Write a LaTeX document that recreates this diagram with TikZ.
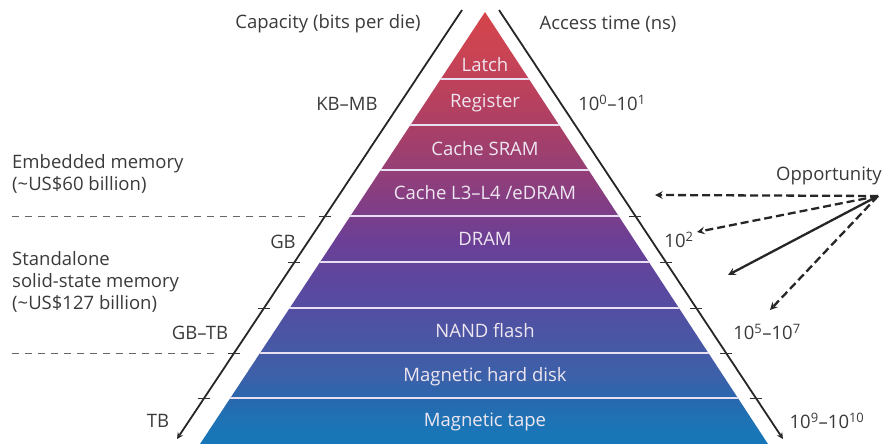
\documentclass[tikz,border=0pt]{standalone}
\usepackage{fontspec}
\setmainfont{Open Sans}
\usetikzlibrary{positioning}
\tikzset{>=stealth}
\definecolor{labelgray}{HTML}{3A3A3A}
\definecolor{bandtext}{HTML}{EEE6F0}
\definecolor{sepline}{HTML}{E8E0F2}
\pgfdeclareverticalshading{memshade}{100bp}{%
	color(0bp)=(rgb,255:red,22;green,119;blue,184);
	color(25bp)=(rgb,255:red,22;green,119;blue,184);
	color(27.7bp)=(rgb,255:red,30;green,115;blue,181);
	color(30.1bp)=(rgb,255:red,40;green,104;blue,174);
	color(33bp)=(rgb,255:red,61;green,96;blue,169);
	color(38.2bp)=(rgb,255:red,76;green,84;blue,163);
	color(43.4bp)=(rgb,255:red,91;green,71;blue,159);
	color(48.7bp)=(rgb,255:red,108;green,63;blue,149);
	color(54.1bp)=(rgb,255:red,136;green,62;blue,128);
	color(59.3bp)=(rgb,255:red,160;green,63;blue,109);
	color(64.8bp)=(rgb,255:red,183;green,64;blue,94);
	color(71.2bp)=(rgb,255:red,204;green,68;blue,82);
	color(75bp)=(rgb,255:red,212;green,68;blue,74);
	color(100bp)=(rgb,255:red,212;green,68;blue,74)}
\tikzset{
	% text styles
	outlabel/.style={text=labelgray,font=\fontsize{18.5}{22}\selectfont,inner sep=0pt},
	bandlabel/.style={text=bandtext,font=\fontsize{18.5}{22}\selectfont,inner sep=0pt},
	% line styles
	axisline/.style={line width=1.8pt,black!85},
	tickmark/.style={line width=1pt,black!80},
	divider/.style={dashed,dash pattern=on 7pt off 6pt,line width=1pt,black!60},
	opparrow/.style={->,line width=2.3pt,black!85},
	oppdash/.style={opparrow,dashed,dash pattern=on 8pt off 4pt},
}

\begin{document}
\begin{tikzpicture}[x=1pt,y=-1pt]
	\useasboundingbox (0,0) rectangle (883,444);
	
	% pyramid
	\shade[shading=memshade] (485,12) -- (768,444) -- (200,444) -- cycle;
	\begin{scope}
		\clip (485,12) -- (768,444) -- (200,444) -- cycle;
		\foreach \y in {79,125,170,216,262,308,353,398}
			\draw[sepline,line width=1.8pt] (150,\y) -- (820,\y);
	\end{scope}
	
	\node[bandlabel] (latch) at (485,65) {Latch};
	\node[bandlabel] (register) at (485,103) {Register};
	\node[bandlabel] (sram) at (485,149) {Cache SRAM};
	\node[bandlabel] (edram) at (485,193) {Cache L3–L4 /eDRAM};
	\node[bandlabel] (dram) at (485,239) {DRAM};
	\node[bandlabel] (nand) at (485,331) {NAND flash};
	\node[bandlabel] (hdd) at (485,377) {Magnetic hard disk};
	\node[bandlabel] (tape) at (485,422) {Magnetic tape};
	
	% axes
	\coordinate (captop) at (462,10);
	\coordinate (capbot) at (177,439);
	\coordinate (acctop) at (499,10);
	\coordinate (accbot) at (783,439);
	\draw[axisline,->] (captop) -- (capbot);
	\draw[axisline,->] (acctop) -- (accbot);
	\foreach \y in {216,262,308,353,398} {
		\draw[tickmark] ({462-(\y-10)*0.666-6},\y) -- ++(12,0);
		\draw[tickmark] ({499+(\y-10)*0.662-6},\y) -- ++(12,0);
	}
	
	\node[outlabel] (capacity) at (328,24) {Capacity (bits per die)};
	\node[outlabel] (access) at (608,24) {Access time (ns)};
	\node[outlabel] (kbmb) at (347,104) {KB–MB};
	\node[outlabel] (gb) at (283,242) {GB};
	\node[outlabel] (gbtb) at (200,333) {GB–TB};
	\node[outlabel] (tb) at (158,421) {TB};
	\node[outlabel] (t01) at (612,103) {10\textsuperscript{0}–10\textsuperscript{1}};
	\node[outlabel] (t2) at (679,240) {10\textsuperscript{2}};
	\node[outlabel] (t57) at (767,332) {10\textsuperscript{5}–10\textsuperscript{7}};
	\node[outlabel] (t910) at (827,421) {10\textsuperscript{9}–10\textsuperscript{10}};
	
	% market segments
	\node[outlabel,anchor=west,align=left] (embedded) at (12,174) {Embedded memory\\(\textasciitilde US\$60 billion)};
	\node[outlabel,anchor=west,align=left] (standalone) at (12,282) {Standalone\\solid-state memory\\(\textasciitilde US\$127 billion)};
	\coordinate (embl) at (12,216);
	\coordinate (embr) at (305,216);
	\coordinate (stal) at (12,353);
	\coordinate (star) at (214,353);
	\draw[divider] (embl) -- (embr);
	\draw[divider] (stal) -- (star);
	
	% opportunity
	\node[outlabel] (opp) at (829,176) {Opportunity};
	\coordinate (src) at (878,196);
	\coordinate (toedram) at (655,195);
	\coordinate (todram) at (697,232);
	\coordinate (togap) at (728,275);
	\coordinate (tonand) at (770,310);
	\draw[oppdash] (src) -- (toedram);
	\draw[oppdash] (src) -- (todram);
	\draw[opparrow] (src) -- (togap);
	\draw[oppdash] (src) -- (tonand);
\end{tikzpicture}
\end{document}
